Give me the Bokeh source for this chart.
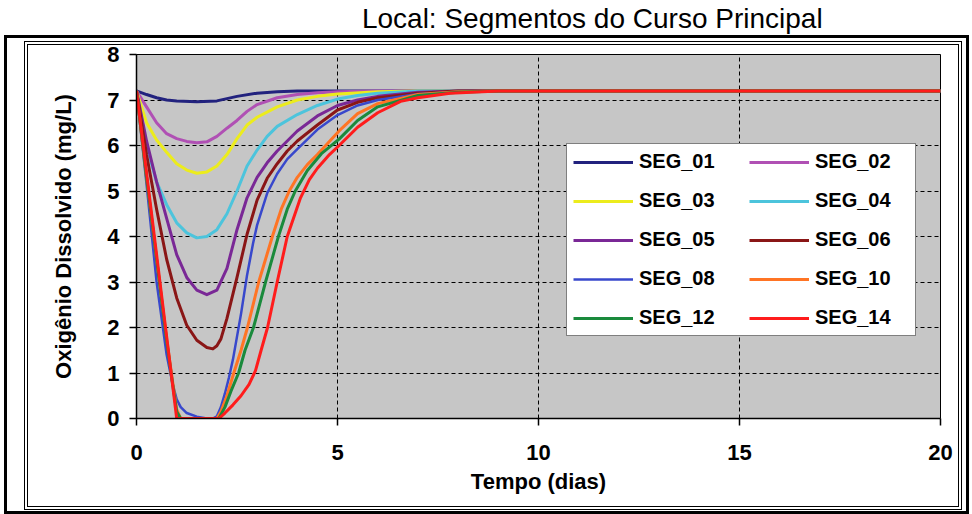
from bokeh.plotting import figure
from bokeh.layouts import column
from bokeh.models import Range1d, Legend, LegendItem, InlineStyleSheet
from bokeh.core.properties import value
from bokeh.embed import file_html
from bokeh.resources import INLINE

# Dissolved oxygen (mg/L) along time (days) for each main-course segment
seg01_t = [0, 0.25, 0.5, 0.75, 1.0, 1.5, 2.0, 2.5, 3.0, 3.5, 4.0, 5.0, 20]
seg01_od = [7.2, 7.12, 7.05, 7.0, 6.98, 6.96, 6.98, 7.08, 7.15, 7.18, 7.2, 7.2, 7.2]

seg02_t = [0, 0.25, 0.5, 0.75, 1.0, 1.25, 1.5, 1.75, 2.0, 2.25, 2.5, 2.75, 3.0, 3.5, 4.0, 4.5, 5.0, 6.0, 20]
seg02_od = [7.2, 6.85, 6.5, 6.26, 6.15, 6.09, 6.06, 6.08, 6.2, 6.38, 6.55, 6.75, 6.9, 7.05, 7.12, 7.16, 7.18, 7.2, 7.2]

seg03_t = [0, 0.25, 0.5, 0.75, 1.0, 1.25, 1.5, 1.75, 2.0, 2.25, 2.5, 2.75, 3.0, 3.5, 4.0, 4.5, 5.0, 6.0, 7.0, 20]
seg03_od = [7.2, 6.5, 6.12, 5.85, 5.6, 5.46, 5.39, 5.42, 5.55, 5.8, 6.15, 6.45, 6.62, 6.85, 7.0, 7.08, 7.13, 7.18, 7.2, 7.2]

seg04_t = [0, 0.25, 0.5, 0.75, 1.0, 1.25, 1.5, 1.75, 2.0, 2.25, 2.5, 2.75, 3.0, 3.25, 3.5, 4.0, 4.5, 5.0, 5.5, 6.0, 7.0, 20]
seg04_od = [7.2, 6.0, 5.2, 4.7, 4.3, 4.08, 3.97, 4.0, 4.15, 4.5, 5.0, 5.55, 5.9, 6.2, 6.42, 6.68, 6.88, 7.02, 7.1, 7.15, 7.2, 7.2]

seg05_t = [0, 0.25, 0.5, 0.75, 1.0, 1.25, 1.5, 1.75, 2.0, 2.25, 2.5, 2.75, 3.0, 3.25, 3.5, 3.75, 4.0, 4.5, 5.0, 5.5, 6.0, 7.0, 8.0, 20]
seg05_od = [7.2, 6.1, 5.2, 4.4, 3.6, 3.1, 2.82, 2.72, 2.82, 3.3, 4.15, 4.85, 5.3, 5.62, 5.88, 6.1, 6.32, 6.65, 6.88, 7.0, 7.08, 7.17, 7.2, 7.2]

seg06_t = [0, 0.25, 0.5, 0.75, 1.0, 1.25, 1.5, 1.75, 1.9, 2.0, 2.1, 2.25, 2.5, 2.75, 3.0, 3.25, 3.5, 3.75, 4.0, 4.5, 5.0, 5.5, 6.0, 7.0, 8.0, 20]
seg06_od = [7.2, 5.8, 4.6, 3.5, 2.65, 2.05, 1.72, 1.56, 1.53, 1.6, 1.75, 2.2, 3.1, 4.05, 4.8, 5.28, 5.6, 5.88, 6.1, 6.45, 6.78, 6.95, 7.05, 7.15, 7.2, 7.2]

seg08_t = [0, 0.25, 0.5, 0.75, 0.9, 1.0, 1.1, 1.25, 1.5, 1.75, 1.9, 2.0, 2.1, 2.2, 2.3, 2.4, 2.5, 2.6, 2.75, 2.9, 3.0, 3.25, 3.5, 3.75, 4.0, 4.5, 5.0, 5.5, 6.0, 7.0, 8.0, 9.0, 20]
seg08_od = [7.2, 5.15, 3.0, 1.4, 0.75, 0.42, 0.25, 0.12, 0.04, 0.0, 0.0, 0.05, 0.25, 0.55, 0.9, 1.3, 1.8, 2.3, 3.15, 3.85, 4.25, 4.95, 5.38, 5.7, 5.92, 6.35, 6.67, 6.88, 7.0, 7.13, 7.18, 7.2, 7.2]

seg10_t = [0, 0.25, 0.5, 0.75, 0.9, 1.0, 1.1, 2.0, 2.1, 2.25, 2.42, 2.6, 2.76, 3.04, 3.38, 3.6, 3.8, 4.0, 4.25, 4.5, 5.04, 5.5, 6.0, 7.0, 8.0, 9.0, 20]
seg10_od = [7.2, 5.3, 3.5, 1.75, 0.8, 0.2, 0.0, 0.0, 0.15, 0.5, 1.0, 1.5, 2.0, 3.0, 4.0, 4.6, 5.0, 5.3, 5.58, 5.8, 6.32, 6.7, 6.92, 7.12, 7.18, 7.2, 7.2]

seg12_t = [0, 0.25, 0.5, 0.75, 0.9, 1.0, 1.1, 2.05, 2.2, 2.35, 2.54, 2.7, 2.91, 3.21, 3.53, 3.75, 3.95, 4.25, 4.6, 5.04, 5.5, 6.0, 7.0, 8.0, 9.0, 20]
seg12_od = [7.2, 5.3, 3.5, 1.7, 0.75, 0.15, 0.0, 0.0, 0.25, 0.6, 1.0, 1.5, 2.0, 3.0, 4.0, 4.6, 5.0, 5.45, 5.82, 6.14, 6.55, 6.85, 7.1, 7.17, 7.2, 7.2]

seg14_t = [0, 0.25, 0.5, 0.75, 0.9, 1.0, 2.05, 2.2, 2.4, 2.6, 2.8, 2.96, 3.1, 3.26, 3.5, 3.75, 4.08, 4.3, 4.5, 4.8, 5.04, 5.5, 6.0, 6.57, 7.0, 7.8, 9.0, 20]
seg14_od = [7.2, 5.4, 3.6, 1.8, 0.72, 0.0, 0.0, 0.12, 0.3, 0.5, 0.75, 1.05, 1.5, 2.0, 3.0, 4.0, 4.85, 5.25, 5.5, 5.8, 6.0, 6.4, 6.72, 6.97, 7.05, 7.15, 7.2, 7.2]

series_names = ["SEG_01", "SEG_02", "SEG_03", "SEG_04", "SEG_05",
                "SEG_06", "SEG_08", "SEG_10", "SEG_12", "SEG_14"]
series_t = [seg01_t, seg02_t, seg03_t, seg04_t, seg05_t,
            seg06_t, seg08_t, seg10_t, seg12_t, seg14_t]
series_od = [seg01_od, seg02_od, seg03_od, seg04_od, seg05_od,
             seg06_od, seg08_od, seg10_od, seg12_od, seg14_od]
series_colors = ["#22227e", "#b050b4", "#ecec1c", "#4cc4dc", "#7a2896",
                 "#8a1616", "#3848cc", "#ff7424", "#1a8a3c", "#ff1c1c"]
series_widths = [3, 3, 3, 3, 3, 3, 2.5, 3, 3, 3]

x_ticks = [0, 5, 10, 15, 20]
y_ticks = [0, 1, 2, 3, 4, 5, 6, 7, 8]

chart_title = "Local: Segmentos do Curso Principal"

FONT = "Liberation Sans"

# heavy outer rule plus a thin double rule around the chart body
frame_css = InlineStyleSheet(css="""
:host { position: relative; }
:host::after {
  content: ""; position: absolute; box-sizing: border-box;
  left: 4px; top: 35px; width: 965px; height: 479px;
  border: 3px solid black; pointer-events: none; z-index: 5;
}
:host::before {
  content: ""; position: absolute; box-sizing: border-box;
  left: 24px; top: 41px; width: 938px; height: 469px;
  border: 4px double black; pointer-events: none; z-index: 5;
}
""")

# strip holding the title above the framed chart
HEAD_H = 36
head = figure(width=972, height=HEAD_H, output_backend="svg", toolbar_location=None,
              x_range=Range1d(0, 972), y_range=Range1d(0, HEAD_H),
              x_axis_type=None, y_axis_type=None,
              min_border_left=0, min_border_right=0,
              min_border_top=0, min_border_bottom=0)
head.grid.visible = False
head.outline_line_color = None
head.background_fill_color = "white"
head.border_fill_color = "white"
head.text(x=[551], y=[HEAD_H / 2], text=[chart_title], text_align="center",
          text_baseline="middle", text_font=value(FONT),
          text_font_size="28px", text_color="black")

p = figure(width=972, height=514 - HEAD_H, output_backend="svg", toolbar_location=None,
           x_range=Range1d(0, 20), y_range=Range1d(0, 8),
           min_border_left=136, min_border_right=32,
           min_border_top=54 - HEAD_H, min_border_bottom=96)

p.background_fill_color = "#c6c6c6"
p.border_fill_color = "white"
p.outline_line_color = "black"
p.outline_line_width = 1

# axes
p.xaxis.ticker = x_ticks
p.yaxis.ticker = y_ticks
for ax in (p.xaxis, p.yaxis):
    ax.axis_line_color = "black"
    ax.axis_line_width = 1.5
    ax.major_tick_line_color = "black"
    ax.major_tick_line_width = 1.5
    ax.major_tick_out = 7
    ax.major_tick_in = 0
    ax.minor_tick_line_color = None
    ax.major_label_text_font = FONT
    ax.major_label_text_font_style = "bold"
    ax.major_label_text_font_size = "22px"
    ax.major_label_text_color = "black"
    ax.axis_label_text_font = FONT
    ax.axis_label_text_font_style = "bold"
    ax.axis_label_text_font_size = "22px"
    ax.axis_label_text_color = "black"

p.xaxis.axis_label = "Tempo (dias)"
p.yaxis.axis_label = "Oxigênio Dissolvido (mg/L)"
p.xaxis.major_label_standoff = 19
p.xaxis.axis_label_standoff = 6
p.yaxis.major_label_standoff = 10
p.yaxis.axis_label_standoff = 28

# dashed grid
p.xgrid.ticker = [5, 10, 15]
p.ygrid.ticker = [1, 2, 3, 4, 5, 6, 7]
for g in (p.xgrid, p.ygrid):
    g.grid_line_color = "black"
    g.grid_line_width = 1
    g.grid_line_dash = "4 3"

# curves
items = {}
for name, t, od, c, w in zip(series_names, series_t, series_od, series_colors, series_widths):
    r = p.line(t, od, line_color=c, line_width=w, line_join="round")
    items[name] = LegendItem(label=name, renderers=[r])

# two-column legend, read row by row (the grid fills column by column)
legend_order = ["SEG_01", "SEG_03", "SEG_05", "SEG_08", "SEG_12",
                "SEG_02", "SEG_04", "SEG_06", "SEG_10", "SEG_14"]
legend = Legend(items=[items[n] for n in legend_order], ncols=2, location=(430, 82),
                glyph_width=60, glyph_height=20, label_height=20,
                label_width=94, label_standoff=6, spacing=16, padding=6,
                label_text_font=FONT, label_text_font_style="bold",
                label_text_font_size="20px", label_text_color="black",
                border_line_color="black", border_line_width=1.5,
                background_fill_color="white", background_fill_alpha=1)
p.add_layout(legend, "center")

page = column(head, p, spacing=0, stylesheets=[frame_css])

open("out.html", "w").write(file_html(page, INLINE))
